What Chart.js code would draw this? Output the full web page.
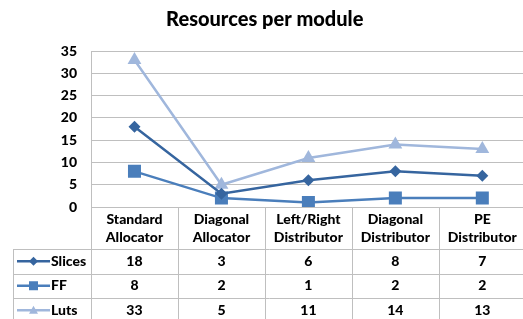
<!DOCTYPE html>
<html>
<head>
<meta charset="utf-8">
<script src="https://cdn.jsdelivr.net/npm/chart.js"></script>
<style>
  html, body { margin: 0; padding: 0; background: #fff; overflow: hidden; }
  #wrap { width: 535px; height: 319px; }
</style>
</head>
<body>
<div id="wrap"><canvas id="chart"></canvas></div>
<script>
const categories = [
    ['Standard', 'Allocator'],
    ['Diagonal', 'Allocator'],
    ['Left/Right', 'Distributor'],
    ['Diagonal', 'Distributor'],
    ['PE', 'Distributor']
];
const slices = [18, 3, 6, 8, 7];
const ff = [8, 2, 1, 2, 2];
const luts = [33, 5, 11, 14, 13];
const yTicks = [0, 5, 10, 15, 20, 25, 30, 35];

const FONT = 'Lato, "Liberation Sans", sans-serif';
const GRID = '#bfbfbf';

// draws a legend marker like the chart's point styles
function marker(ctx, style, x, y, r) {
    ctx.beginPath();
    if (style === 'rectRot') {
        ctx.moveTo(x, y - r); ctx.lineTo(x + r, y); ctx.lineTo(x, y + r); ctx.lineTo(x - r, y);
    } else if (style === 'rect') {
        ctx.rect(x - r, y - r, 2 * r, 2 * r);
    } else {
        ctx.moveTo(x, y - r); ctx.lineTo(x + r, y + r * 0.75); ctx.lineTo(x - r, y + r * 0.75);
    }
    ctx.closePath();
    ctx.fill();
}

// data table under the plot, built from the same arrays
const dataTable = {
    id: 'dataTable',
    afterDraw(chart) {
        const ctx = chart.ctx;
        const area = chart.chartArea;
        const x = chart.scales.x;
        const colW = x.getPixelForValue(1) - x.getPixelForValue(0);
        const top = area.bottom;
        const headH = 42, rowH = 24.5;
        const legendLeft = 13;
        const nCols = categories.length;
        const right = x.getPixelForValue(nCols - 1) + colW / 2;

        ctx.save();
        ctx.strokeStyle = GRID;
        ctx.lineWidth = 1;
        ctx.beginPath();
        for (let i = 0; i <= nCols; i++) {
            const bx = Math.round(area.left + i * colW) + 0.5;
            ctx.moveTo(bx, top);
            ctx.lineTo(bx, top + headH + rowH * 3);
        }
        ctx.moveTo(legendLeft + 0.5, top + headH);
        ctx.lineTo(legendLeft + 0.5, top + headH + rowH * 3);
        for (let r = 0; r <= 3; r++) {
            const ly = Math.round(top + headH + r * rowH) + 0.5;
            ctx.moveTo(legendLeft, ly);
            ctx.lineTo(right, ly);
        }
        ctx.stroke();

        ctx.fillStyle = '#000';
        ctx.font = '900 14px ' + FONT;
        ctx.textAlign = 'center';
        ctx.textBaseline = 'middle';
        categories.forEach((lines, i) => {
            const cx = x.getPixelForValue(i);
            ctx.fillText(lines[0], cx, top + 12);
            ctx.fillText(lines[1], cx, top + 30);
        });

        chart.data.datasets.forEach((ds, r) => {
            const cy = top + headH + rowH * r + rowH / 2;
            ds.data.forEach((v, i) => {
                ctx.fillStyle = '#000';
                ctx.textAlign = 'center';
                ctx.fillText(String(v), x.getPixelForValue(i), cy);
            });
            ctx.strokeStyle = ds.borderColor;
            ctx.fillStyle = ds.borderColor;
            ctx.lineWidth = 2.5;
            ctx.beginPath();
            ctx.moveTo(17, cy);
            ctx.lineTo(50, cy);
            ctx.stroke();
            marker(ctx, ds.pointStyle, 33.5, cy, 4.5);
            ctx.fillStyle = '#000';
            ctx.textAlign = 'left';
            ctx.fillText(ds.label, 51, cy);
        });
        ctx.restore();
    }
};

new Chart(document.getElementById('chart'), {
    type: 'line',
    data: {
        labels: categories,
        datasets: [
            { label: 'Slices', data: slices, borderColor: '#36659f', backgroundColor: '#36659f',
              pointStyle: 'rectRot', pointRadius: 6 },
            { label: 'FF', data: ff, borderColor: '#4a7ebb', backgroundColor: '#4a7ebb',
              pointStyle: 'rect', pointRadius: 9.2 },
            { label: 'Luts', data: luts, borderColor: '#a0b7dc', backgroundColor: '#a0b7dc',
              pointStyle: 'triangle', pointRadius: 8 }
        ]
    },
    options: {
        responsive: true,
        maintainAspectRatio: false,
        animation: false,
        events: [],
        datasets: { line: { borderWidth: 2.5, tension: 0, pointBorderWidth: 0 } },
        layout: { padding: { left: 0, right: 5.5, top: 0, bottom: 112 } },
        plugins: {
            legend: { display: false },
            tooltip: { enabled: false },
            title: {
                display: true,
                text: 'Resources per module',
                color: '#000',
                font: { family: FONT, size: 20, weight: '900' },
                padding: { top: 8, bottom: 19 }
            }
        },
        scales: {
            x: { display: false, offset: true },
            y: {
                min: 0, max: 35,
                afterFit(scale) { scale.width = 91; },
                afterBuildTicks(scale) { scale.ticks = yTicks.map(v => ({ value: v })); },
                ticks: { padding: 14, color: '#000', font: { family: FONT, size: 14, weight: '900' } },
                grid: { color: GRID, drawTicks: false },
                border: { color: GRID }
            }
        }
    },
    plugins: [dataTable]
});
</script>
</body>
</html>
